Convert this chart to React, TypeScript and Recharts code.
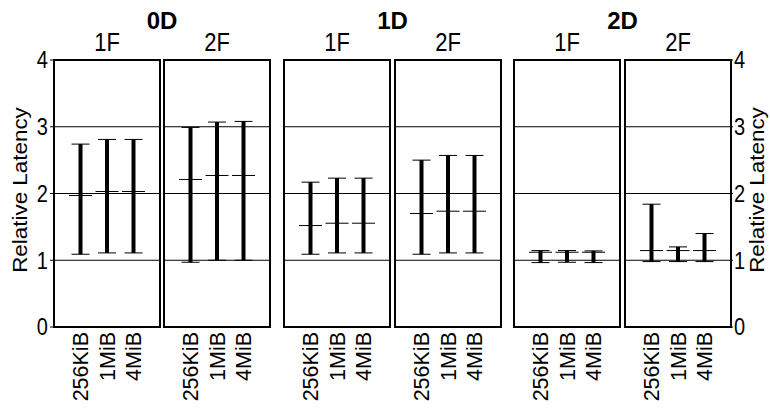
import React from 'react';
import {
  ScatterChart,
  Scatter,
  XAxis,
  YAxis,
  ErrorBar,
  ReferenceArea,
  ReferenceLine,
} from 'recharts';

// categories and groups
const categories = ['256KiB', '1MiB', '4MiB'];
const dimensions = ['0D', '1D', '2D'];
const fanouts = ['1F', '2F'];
const yTicks = [0, 1, 2, 3, 4];
const gridValues = [1, 2, 3];

// relative latency: low whisker / median / high whisker per category
const low0D1F = [1.09, 1.11, 1.11];
const med0D1F = [1.97, 2.03, 2.03];
const high0D1F = [2.74, 2.81, 2.81];

const low0D2F = [0.97, 1.0, 1.0];
const med0D2F = [2.21, 2.27, 2.27];
const high0D2F = [2.99, 3.07, 3.08];

const low1D1F = [1.09, 1.11, 1.11];
const med1D1F = [1.52, 1.555, 1.555];
const high1D1F = [2.17, 2.23, 2.23];

const low1D2F = [1.09, 1.11, 1.11];
const med1D2F = [1.7, 1.735, 1.735];
const high1D2F = [2.5, 2.57, 2.57];

const low2D1F = [0.965, 0.97, 0.965];
const med2D1F = [1.12, 1.12, 1.12];
const high2D1F = [1.145, 1.145, 1.14];

const low2D2F = [0.98, 0.98, 0.98];
const med2D2F = [1.145, 1.145, 1.145];
const high2D2F = [1.84, 1.2, 1.4];

const series = [
  [low0D1F, med0D1F, high0D1F],
  [low0D2F, med0D2F, high0D2F],
  [low1D1F, med1D1F, high1D1F],
  [low1D2F, med1D2F, high1D2F],
  [low2D1F, med2D1F, high2D1F],
  [low2D2F, med2D2F, high2D2F],
];

const FONT = '"Liberation Sans", Arial, Helvetica, sans-serif';
const W = 770;
const H = 408;
const PLOT_TOP = 60;
const PLOT_BOTTOM = 327;
// the original figure is a bit stretched vertically
const STRETCH = 1.17;
// left/right pixel edges of the six panels
const edges = [
  [54, 160],
  [164, 270],
  [284, 390],
  [395, 501],
  [514, 620],
  [625, 731],
];

const buildRows = (low: number[], med: number[], high: number[]) =>
  categories.map((c, i) => ({
    x: i + 1,
    name: c,
    med: med[i],
    err: [med[i] - low[i], high[i] - med[i]],
  }));

const CategoryTick = (props: any) => {
  const { x, y, payload } = props;
  return (
    <text
      x={x}
      y={y}
      transform={`rotate(-90 ${x} ${y})`}
      textAnchor="end"
      dy="0.35em"
      fontSize={21.5}
      fontFamily={FONT}
      fill="#000"
    >
      {categories[payload.value - 1]}
    </text>
  );
};

const ValueTick = (props: any) => {
  const { x, y, payload, textAnchor } = props;
  return (
    <g transform={`translate(${x} ${y}) scale(1 ${STRETCH})`}>
      <text x={0} y={0} dy="0.355em" textAnchor={textAnchor} fontSize={20} fontFamily={FONT} fill="#000">
        {payload.value}
      </text>
    </g>
  );
};

const MedianTick = (props: any) => {
  const { cx, cy } = props;
  if (cx == null || cy == null) return <g />;
  return <line x1={cx - 11.5} x2={cx + 11.5} y1={cy} y2={cy} stroke="#000" strokeWidth={1} />;
};

const Panel = ({ index }: { index: number }) => {
  const [low, med, high] = series[index];
  const data = buildRows(low, med, high);
  const [l, r] = edges[index];
  const first = index === 0;
  const last = index === edges.length - 1;
  const axisW = 30;
  return (
    <div style={{ position: 'absolute', left: 0, top: 0 }}>
      <ScatterChart
        width={W}
        height={H}
        margin={{
          top: PLOT_TOP,
          bottom: 0,
          left: first ? l - axisW : l,
          right: last ? W - r - axisW : W - r,
        }}
      >
        <XAxis
          type="number"
          dataKey="x"
          domain={[0, 4]}
          ticks={[1, 2, 3]}
          axisLine={false}
          tickLine={false}
          tickSize={0}
          tickMargin={5}
          height={H - PLOT_BOTTOM}
          tick={<CategoryTick />}
          interval={0}
        />
        <YAxis
          type="number"
          dataKey="med"
          domain={[0, 4]}
          ticks={yTicks}
          hide={!first && !last}
          orientation={last ? 'right' : 'left'}
          width={axisW}
          axisLine={false}
          tickLine={{ stroke: '#000' }}
          tickSize={first ? 4 : 2}
          tickMargin={first ? 2 : 1}
          interval={0}
          tick={<ValueTick />}
        />
        {gridValues.map((v) => (
          <ReferenceLine key={v} y={v} stroke="#000" strokeWidth={1} />
        ))}
        <ReferenceArea
          x1={0}
          x2={4}
          y1={0}
          y2={4}
          fill="none"
          fillOpacity={0}
          stroke="#000"
          strokeWidth={2}
          ifOverflow="visible"
        />
        <Scatter data={data} dataKey="med" isAnimationActive={false} shape={<MedianTick />}>
          <ErrorBar dataKey="err" direction="y" width={0} stroke="#000" strokeWidth={4} isAnimationActive={false} />
          <ErrorBar dataKey="err" direction="y" width={9} stroke="#000" strokeWidth={1} isAnimationActive={false} />
        </Scatter>
      </ScatterChart>
    </div>
  );
};

const textStyle: React.CSSProperties = {
  position: 'absolute',
  fontFamily: FONT,
  color: '#000',
  whiteSpace: 'nowrap',
  textAlign: 'center',
  lineHeight: 1,
};

export default function App() {
  return (
    <div style={{ position: 'absolute', left: 0, top: 0, width: W, height: H, background: '#fff', overflow: 'hidden' }}>
      {edges.map((_, i) => (
        <Panel key={i} index={i} />
      ))}
      {dimensions.map((d, i) => {
        const cx = (edges[i * 2][0] + edges[i * 2 + 1][1]) / 2;
        return (
          <div key={d} style={{ ...textStyle, left: cx - 50, width: 100, top: 9, fontSize: 24, fontWeight: 'bold' }}>
            {d}
          </div>
        );
      })}
      {edges.map(([l, r], i) => (
        <div
          key={i}
          style={{
            ...textStyle,
            left: (l + r) / 2 - 50,
            width: 100,
            top: 31.5,
            fontSize: 22,
            transform: `scaleY(${STRETCH + 0.03})`,
          }}
        >
          {fanouts[i % 2]}
        </div>
      ))}
      {[20, 756.5].map((cx) => (
        <div
          key={cx}
          style={{
            ...textStyle,
            left: cx - 100,
            width: 200,
            height: 20,
            top: 190 - 10,
            fontSize: 20,
            transform: 'rotate(-90deg) scaleX(1.12)',
          }}
        >
          Relative Latency
        </div>
      ))}
    </div>
  );
}
